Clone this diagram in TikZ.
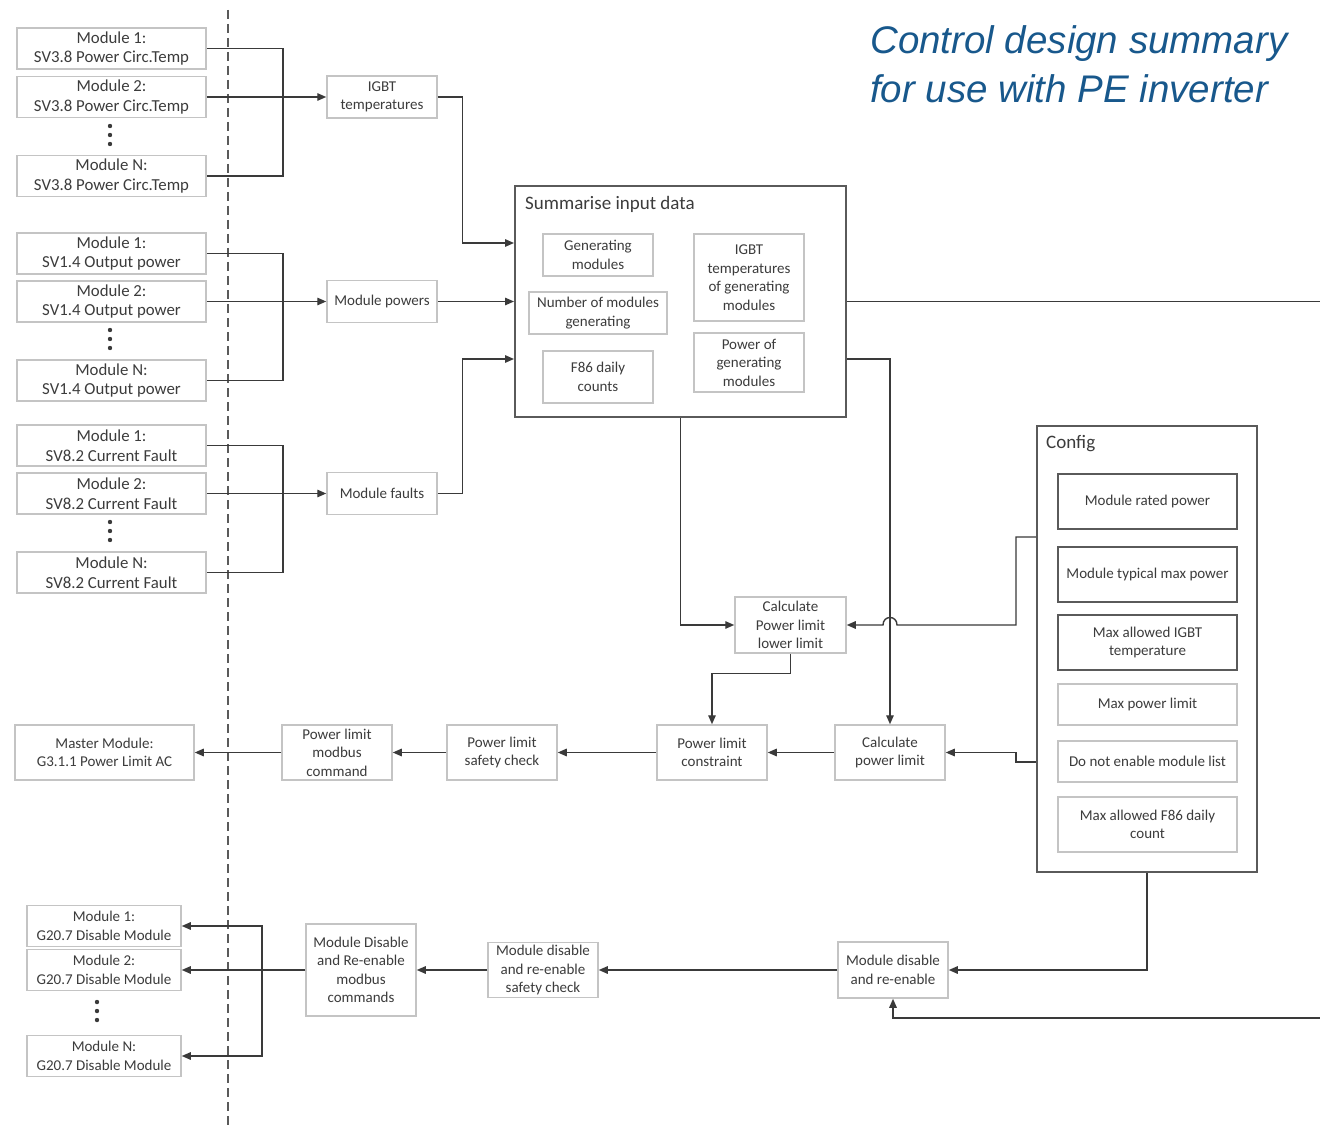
\documentclass[tikz,border=0pt]{standalone}
\usepackage{fontspec}
\setmainfont{Carlito}
\newfontfamily\headfont{Liberation Sans}
\usetikzlibrary{arrows.meta,calc}

\definecolor{linecol}{HTML}{3A3A3A}
\definecolor{boxlight}{HTML}{C4C4C4}
\definecolor{boxdark}{HTML}{5A5A5A}
\definecolor{txtgray}{HTML}{3C3C3C}
\definecolor{titleblue}{RGB}{24,88,140}

\tikzset{
  wire/.style={line width=1.4pt, draw=linecol},
  arr/.style={wire, -{Triangle[length=9pt,width=7.5pt]}},
  divider/.style={line width=1.4pt, draw=boxdark, dash pattern=on 9pt off 5pt},
  box/.style={draw=boxlight, line width=1.5pt, text=txtgray, align=center, inner sep=1pt,
    font=\fontsize{15}{18.5}\selectfont},
  modbox/.style={box, minimum width=189pt, minimum height=41pt},
  inbox/.style={modbox, font=\fontsize{16.8}{19.5}\selectfont},
  midbox/.style={box, minimum width=110pt, minimum height=42pt},
  stepbox/.style={box, minimum width=110pt, minimum height=55pt},
  cfgbox/.style={box, minimum width=179pt, minimum height=55pt},
  cfgdark/.style={cfgbox, draw=boxdark, line width=2pt},
  bigbox/.style={draw=boxdark, line width=2pt},
  boxtitle/.style={text=txtgray, anchor=west, inner sep=0pt, font=\fontsize{19}{22}\selectfont},
  titletext/.style={text=titleblue, align=left, inner sep=0pt, font=\headfont\itshape\fontsize{38.5}{49}\selectfont}
}

\begin{document}
\begin{tikzpicture}[x=1pt,y=-1pt]
\fill[white] (0,0) rectangle (1320,1126);
\useasboundingbox (0,0) rectangle (1320,1126);

% modules | controller
\draw[divider] (228,10) -- (228,1126);

\node[titletext, anchor=north west] (title) at (870,25) {Control design summary\\for use with PE inverter};

% Temperature inputs
\node[inbox] (t1) at (111.5,48.5) {Module 1:\\SV3.8 Power Circ.Temp};
\node[inbox] (t2) at (111.5,97) {Module 2:\\SV3.8 Power Circ.Temp};
\node[inbox] (tN) at (111.5,176) {Module N:\\SV3.8 Power Circ.Temp};
\fill[linecol] (110,126) circle[radius=2.2pt] (110,135) circle[radius=2.2pt] (110,144) circle[radius=2.2pt];

% Power inputs
\node[inbox] (p1) at (111.5,253.5) {Module 1:\\SV1.4 Output power};
\node[inbox] (p2) at (111.5,301.5) {Module 2:\\SV1.4 Output power};
\node[inbox] (pN) at (111.5,380.5) {Module N:\\SV1.4 Output power};
\fill[linecol] (110,330) circle[radius=2.2pt] (110,339) circle[radius=2.2pt] (110,348) circle[radius=2.2pt];

% Fault inputs
\node[inbox] (f1) at (111.5,445.5) {Module 1:\\SV8.2 Current Fault};
\node[inbox] (f2) at (111.5,493.5) {Module 2:\\SV8.2 Current Fault};
\node[inbox] (fN) at (111.5,572.5) {Module N:\\SV8.2 Current Fault};
\fill[linecol] (110,522) circle[radius=2.2pt] (110,531) circle[radius=2.2pt] (110,540) circle[radius=2.2pt];

\node[midbox] (igbt) at (382,97) {IGBT\\temperatures};
\node[midbox] (mpow) at (382,301.5) {Module powers};
\node[midbox] (mflt) at (382,493.5) {Module faults};

% Summarise input data
\node[bigbox, minimum width=331pt, minimum height=231pt] (sum) at (680.5,301.5) {};
\node[boxtitle] (sumtitle) at (525,204) {Summarise input data};
\node[box, minimum width=110pt, minimum height=42pt] (gen) at (598,255) {Generating\\modules};
\node[box, minimum width=138pt, minimum height=42pt] (num) at (598,313) {Number of modules\\generating};
\node[box, minimum width=110pt, minimum height=52pt] (f86) at (598,377) {F86 daily\\counts};
\node[box, minimum width=110pt, minimum height=87pt] (igbtg) at (749,277.5) {IGBT\\temperatures\\of generating\\modules};
\node[box, minimum width=110pt, minimum height=59pt] (powg) at (749,362.5) {Power of\\generating\\modules};

% Config
\node[bigbox, minimum width=220pt, minimum height=446pt] (cfg) at (1147,649) {};
\node[boxtitle] (cfgtitle) at (1046,444) {Config};
\node[cfgdark] (c1) at (1147.5,501.5) {Module rated power};
\node[cfgdark] (c2) at (1147.5,574.5) {Module typical max power};
\node[cfgdark] (c3) at (1147.5,642.5) {Max allowed IGBT\\temperature};
\node[cfgbox, minimum height=41pt] (c4) at (1147.5,704.5) {Max power limit};
\node[cfgbox, minimum height=41pt] (c5) at (1147.5,761.5) {Do not enable module list};
\node[cfgbox] (c6) at (1147.5,824.5) {Max allowed F86 daily\\count};

% Power limit chain
\node[stepbox, minimum width=111pt, minimum height=56pt] (lower) at (790.5,625) {Calculate\\Power limit\\lower limit};
\node[stepbox] (calc) at (890,752.5) {Calculate\\power limit};
\node[stepbox] (constr) at (712,752.5) {Power limit\\constraint};
\node[stepbox] (safe) at (502,752.5) {Power limit\\safety check};
\node[stepbox] (cmd) at (337,752.5) {Power limit\\modbus\\command};
\node[stepbox, minimum width=179pt] (master) at (104.5,752.5) {Master Module:\\G3.1.1 Power Limit AC};

% Disable chain
\node[stepbox, minimum height=56pt] (dis) at (893,970) {Module disable\\and re-enable};
\node[stepbox] (dsafe) at (543,970) {Module disable\\and re-enable\\safety check};
\node[stepbox, minimum height=92pt] (dcmd) at (361,970) {Module Disable\\and Re-enable\\modbus\\commands};
\node[modbox, minimum width=154pt] (d1) at (104,926) {Module 1:\\G20.7 Disable Module};
\node[modbox, minimum width=154pt] (d2) at (104,970) {Module 2:\\G20.7 Disable Module};
\node[modbox, minimum width=154pt] (dN) at (104,1056) {Module N:\\G20.7 Disable Module};
\fill[linecol] (97,1002) circle[radius=2.2pt] (97,1011) circle[radius=2.2pt] (97,1020) circle[radius=2.2pt];

% Inputs to summary
\coordinate (tbus) at (283,97);
\draw[wire] (t1.east) -| (tbus) |- (tN.east);
\draw[arr] (t2.east) -- (igbt.west);
\coordinate (pbus) at (283,301.5);
\draw[wire] (p1.east) -| (pbus) |- (pN.east);
\draw[arr] (p2.east) -- (mpow.west);
\coordinate (fbus) at (283,493.5);
\draw[wire] (f1.east) -| (fbus) |- (fN.east);
\draw[arr] (f2.east) -- (mflt.west);

\draw[arr] (igbt.east) -- ++(25,0) |- ([yshift=58.5pt]sum.west);
\draw[arr] (mpow.east) -- (sum.west);
\draw[arr] (mflt.east) -- ++(25,0) |- ([yshift=-57.5pt]sum.west);

% Outputs of summary
\coordinate (edgeR) at (1320,0);
\draw[wire] (sum.east) -- (sum.east -| edgeR);
\draw[arr] ([yshift=-57.5pt]sum.east) -| (calc.north);
\draw[arr] (sum.south) |- (lower.west);

% Config to calculations, hop over the vertical line
\draw[arr] ([yshift=112pt]cfg.west) -- ++(-20,0) |- ($(calc.north |- lower.east)+(7,0)$)
  .. controls +(0,-10) and +(0,-10) .. ($(calc.north |- lower.east)+(-7,0)$) -- (lower.east);
\draw[arr] ([yshift=-113pt]cfg.west) -- ++(-20,0) |- (calc.east);
\draw[arr] (cfg.south) |- (dis.east);
\coordinate (edgeB) at (1320,1018);
\draw[arr] (edgeB) -| (dis.south);

% Power limit row
\draw[arr] (lower.south) -- ++(0,20) -| (constr.north);
\draw[arr] (calc.west) -- (constr.east);
\draw[arr] (constr.west) -- (safe.east);
\draw[arr] (safe.west) -- (cmd.east);
\draw[arr] (cmd.west) -- (master.east);

% Disable row
\draw[arr] (dis.west) -- (dsafe.east);
\draw[arr] (dsafe.west) -- (dcmd.east);
\draw[arr] (dcmd.west) -- (d2.east);
\coordinate (dbus) at (262,970);
\draw[arr] (dbus) |- (d1.east);
\draw[arr] (dbus) |- (dN.east);

\end{tikzpicture}
\end{document}
